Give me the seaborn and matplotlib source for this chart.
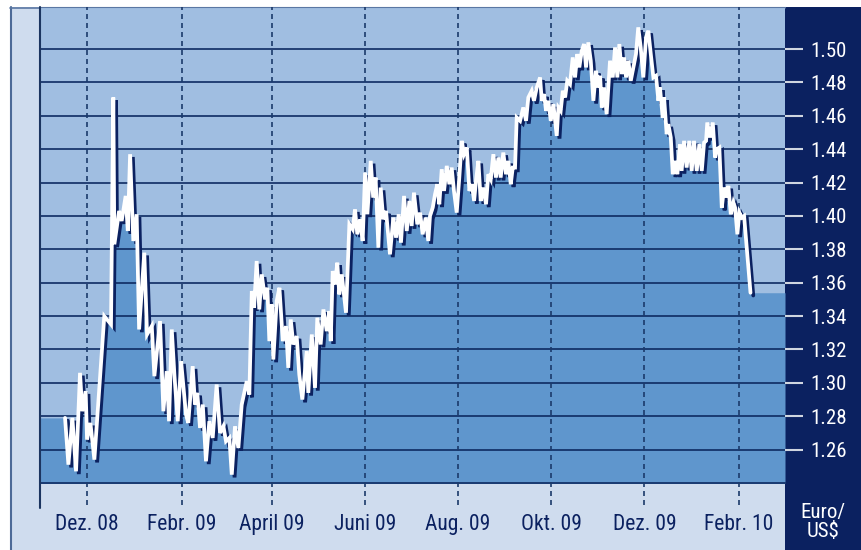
import numpy as np
import pandas as pd
import matplotlib
matplotlib.use('Agg')
import matplotlib.pyplot as plt
import matplotlib.patheffects as pe
from matplotlib.patches import Rectangle
from matplotlib.lines import Line2D
from matplotlib import font_manager
import seaborn as sns

# Euro / US$ exchange rate, days counted from 1 Dec 2008
start = pd.Timestamp('2008-12-01')

days_nov_jan = [-14.4, -12.2, -9.6, -7.2, -4.6, -3.1, -0.9, 0, 2.2, 4.8,
                11.3, 15.7, 17.2, 17.9, 21.0, 22.7, 25.3, 26.7, 28.2, 30.3,
                32.5, 34.1, 37.5, 39.3, 42.4, 44.1, 47.8, 50.0, 52.2, 53.7,
                55.5, 57.2, 59.4, 61.6]
rates_nov_jan = [1.279, 1.251, 1.279, 1.247, 1.306, 1.283, 1.295, 1.266, 1.276, 1.254,
                 1.340, 1.335, 1.471, 1.383, 1.403, 1.397, 1.412, 1.391, 1.437, 1.385,
                 1.401, 1.332, 1.378, 1.329, 1.334, 1.304, 1.337, 1.283, 1.307, 1.277,
                 1.332, 1.305, 1.277, 1.313]

days_feb_apr = [64.8, 66.3, 69.2, 70.7, 72.2, 74.0, 75.8, 77.9, 80.1, 82.3,
                84.9, 87.1, 89.3, 91.0, 93.2, 94.8, 96.9, 99.1, 101.3, 104.6,
                106.3, 107.9, 109.4, 111.1, 112.8, 114.4, 116.6, 118.1, 119.4, 121.0,
                122.0, 124.2, 126.0, 128.2, 130.3, 131.8, 133.4, 135.1, 137.3, 139.0,
                141.0]
rates_feb_apr = [1.281, 1.276, 1.310, 1.287, 1.294, 1.273, 1.287, 1.253, 1.277, 1.267,
                 1.299, 1.270, 1.274, 1.265, 1.267, 1.245, 1.274, 1.261, 1.287, 1.301,
                 1.293, 1.355, 1.345, 1.373, 1.344, 1.365, 1.350, 1.357, 1.325, 1.347,
                 1.314, 1.349, 1.357, 1.325, 1.334, 1.309, 1.338, 1.323, 1.328, 1.305,
                 1.290]

days_may_jul = [143.9, 144.9, 147.2, 149.3, 150.8, 153.0, 154.8, 157.0, 158.7, 159.6,
                160.9, 162.4, 163.9, 165.2, 166.8, 169.6, 171.8, 174.0, 175.5, 177.0,
                178.8, 180.5, 182.1, 183.6, 185.8, 187.4, 189.0, 190.8, 192.3, 194.0,
                195.8, 198.4, 200.6, 202.4, 204.1, 205.6, 207.6, 209.4, 211.1, 212.6,
                214.1, 216.3, 218.1, 219.8, 221.8, 223.5, 224.6]
rates_may_jul = [1.319, 1.294, 1.329, 1.297, 1.339, 1.323, 1.344, 1.331, 1.343, 1.325,
                 1.367, 1.359, 1.372, 1.353, 1.365, 1.342, 1.395, 1.392, 1.404, 1.389,
                 1.398, 1.385, 1.426, 1.401, 1.433, 1.411, 1.423, 1.381, 1.417, 1.398,
                 1.403, 1.377, 1.399, 1.387, 1.401, 1.384, 1.412, 1.391, 1.409, 1.394,
                 1.414, 1.395, 1.402, 1.389, 1.399, 1.385, 1.400]

days_jul_sep = [226.4, 227.9, 229.4, 230.7, 232.3, 233.8, 235.6, 237.3, 238.8, 240.3,
                242.1, 243.8, 245.4, 246.9, 248.7, 250.4, 252.0, 253.5, 254.7, 256.3,
                257.8, 259.5, 261.3, 262.8, 264.4, 266.1, 267.8, 269.4, 270.9, 272.6,
                274.4, 275.9, 277.5, 278.8, 280.3, 281.4, 283.6, 285.7, 287.5, 289.0,
                291.2, 292.7, 294.5, 296.7]
rates_jul_sep = [1.405, 1.413, 1.419, 1.407, 1.428, 1.415, 1.430, 1.419, 1.429, 1.415,
                 1.402, 1.423, 1.445, 1.437, 1.441, 1.415, 1.419, 1.409, 1.421, 1.433,
                 1.409, 1.417, 1.407, 1.425, 1.422, 1.437, 1.423, 1.435, 1.423, 1.438,
                 1.425, 1.433, 1.419, 1.429, 1.429, 1.459, 1.457, 1.465, 1.457, 1.471,
                 1.475, 1.469, 1.477, 1.483]

days_oct_dec = [297.8, 299.3, 300.6, 302.1, 303.7, 305.4, 307.6, 308.7, 310.2, 311.6,
                313.1, 314.5, 316.3, 318.1, 319.6, 321.1, 322.4, 324.0, 325.5, 326.8,
                328.3, 329.9, 331.6, 333.3, 334.8, 336.0, 337.1, 338.6, 340.3, 342.5,
                344.3, 345.8, 347.3, 348.6, 350.2, 351.7, 353.0, 354.5, 356.1, 357.8,
                359.5, 361.0, 362.6, 364.3, 366.1, 367.6, 369.2]
rates_oct_dec = [1.469, 1.473, 1.463, 1.469, 1.457, 1.467, 1.448, 1.465, 1.463, 1.475,
                 1.471, 1.481, 1.479, 1.495, 1.483, 1.497, 1.489, 1.499, 1.503, 1.489,
                 1.504, 1.493, 1.469, 1.487, 1.477, 1.484, 1.465, 1.477, 1.461, 1.493,
                 1.483, 1.501, 1.483, 1.503, 1.485, 1.495, 1.483, 1.493, 1.481, 1.489,
                 1.497, 1.513, 1.501, 1.483, 1.507, 1.511, 1.497]

days_dec_feb = [370.9, 372.6, 374.2, 375.2, 377.0, 377.9, 379.6, 380.7, 382.3, 383.6,
                385.1, 386.6, 388.3, 389.4, 391.0, 392.7, 394.4, 396.0, 397.5, 399.3,
                401.0, 402.6, 404.1, 405.4, 406.2, 408.0, 409.8, 411.3, 412.4, 414.1,
                415.7, 417.2, 418.5, 420.0, 421.6, 423.3, 424.4, 425.9, 427.2, 428.8,
                430.3, 434.5]
rates_dec_feb = [1.483, 1.484, 1.469, 1.477, 1.459, 1.471, 1.449, 1.455, 1.447, 1.425,
                 1.433, 1.425, 1.443, 1.427, 1.445, 1.429, 1.445, 1.427, 1.445, 1.427,
                 1.443, 1.427, 1.444, 1.445, 1.456, 1.447, 1.456, 1.435, 1.440, 1.441,
                 1.405, 1.417, 1.411, 1.418, 1.401, 1.408, 1.405, 1.389, 1.402, 1.399,
                 1.400, 1.354]

tick_dates = ['2008-12-01', '2009-02-01', '2009-04-01', '2009-06-01',
              '2009-08-01', '2009-10-01', '2009-12-01', '2010-02-01']
tick_labels = ['Dez. 08', 'Febr. 09', 'April 09', 'Juni 09',
               'Aug. 09', 'Okt. 09', 'Dez. 09', 'Febr. 10']
y_ticks = [1.26, 1.28, 1.30, 1.32, 1.34, 1.36, 1.38, 1.40, 1.42, 1.44, 1.46, 1.48, 1.50]

days = np.concatenate([days_nov_jan, days_feb_apr, days_may_jul,
                       days_jul_sep, days_oct_dec, days_dec_feb])
rates = np.concatenate([rates_nov_jan, rates_feb_apr, rates_may_jul,
                        rates_jul_sep, rates_oct_dec, rates_dec_feb])
df = pd.DataFrame({'date': start + pd.to_timedelta(days, unit='D'), 'rate': rates})

sns.set_style('white')
# prefer a narrow face if one is installed
names = {f.name for f in font_manager.fontManager.ttflist}
narrow = [n for n in ['Liberation Sans Narrow', 'Roboto Condensed', 'Open Sans Condensed',
                      'DejaVu Sans Condensed'] if n in names]
plt.rcParams['font.family'] = narrow + ['Liberation Sans', 'DejaVu Sans']
plt.rcParams['font.stretch'] = 'condensed'
print('narrow faces:', narrow)

navy = '#0b2160'
W, H = 861, 550
fig = plt.figure(figsize=(W / 100, H / 100), dpi=100)
fig.patch.set_facecolor('white')

# backgrounds: light frame and dark navy panel on the right
fig.add_artist(Rectangle((10 / W, 0), 775 / W, 543 / H, transform=fig.transFigure,
                         facecolor='#cfdcee', edgecolor='none', zorder=-10))
fig.add_artist(Rectangle((785 / W, 0), 76 / W, 543 / H, transform=fig.transFigure,
                         facecolor=navy, edgecolor='none', zorder=-10))
fig.add_artist(Line2D([10.5 / W, 10.5 / W], [0, 543 / H], transform=fig.transFigure,
                      color='#4d6a97', lw=1.5, zorder=-5))
fig.add_artist(Line2D([10 / W, 785 / W], [542.5 / H, 542.5 / H], transform=fig.transFigure,
                      color='#5a77a3', lw=1.2, zorder=-5))

ax = fig.add_axes([40 / W, 67 / H, 745 / W, 476 / H])
ax.set_facecolor('#a0bee1')
ax.set_axisbelow(False)

x_lo = start - pd.Timedelta(days=30.8)
x_hi = start + pd.Timedelta(days=457.1)

# area under the curve, held flat to the plot edges
fill_x = pd.concat([pd.Series([x_lo]), df['date'], pd.Series([x_hi])])
fill_y = np.concatenate([[rates[0]], rates, [rates[-1]]])
ax.fill_between(fill_x, fill_y, 1.2, color='#5f96cd', lw=0, zorder=1)

# white line with a dark drop shadow
sns.lineplot(data=df, x='date', y='rate', ax=ax, color='white', lw=2.7,
             estimator=None, sort=False, zorder=5, solid_joinstyle='miter',
             path_effects=[pe.SimpleLineShadow(offset=(2.0, -2.0), shadow_color=navy, alpha=1),
                           pe.Normal()])

ax.set_xlim(x_lo, x_hi)
ax.set_ylim(1.24, 1.5252)

# horizontal grid
ax.set_yticks(y_ticks)
ax.set_yticklabels([f'{v:.2f}' for v in y_ticks])
ax.yaxis.tick_right()
ax.yaxis.grid(True, color='#0e2b62', lw=1.2)
ax.tick_params(axis='y', length=13, width=1.5, color='#d0d6e0',
               labelcolor='white', labelsize=15, pad=5)

# dashed month lines reaching below the plot
tick_ts = pd.to_datetime(tick_dates)
for t in tick_ts:
    ax.axvline(t, ymin=-22 / 476, ymax=1, clip_on=False, color='#1b3a6b',
               lw=1.2, ls=(0, (3.0, 2.4)), zorder=2.6)
ax.set_xticks(tick_ts)
ax.set_xticklabels(tick_labels)
ax.tick_params(axis='x', length=0, labelcolor=navy, labelsize=15.5, pad=22)
ax.set_xlabel('')
ax.set_ylabel('')

ax.spines['right'].set_visible(False)
ax.spines['top'].set_color('#5a77a3')
ax.spines['bottom'].set_color('#0e2b62')
ax.spines['bottom'].set_linewidth(1.2)
ax.spines['left'].set_visible(False)
ax.add_line(Line2D([0, 0], [-25 / 476, 1], transform=ax.transAxes, clip_on=False,
                   color='#1c3560', lw=1.5, zorder=6))

fig.text(823 / W, 1 - 522 / H, 'Euro/\nUS$', ha='center', va='center',
         color='white', fontsize=15, linespacing=1.0)

fig.savefig('out.png', dpi=100, facecolor=fig.get_facecolor())
